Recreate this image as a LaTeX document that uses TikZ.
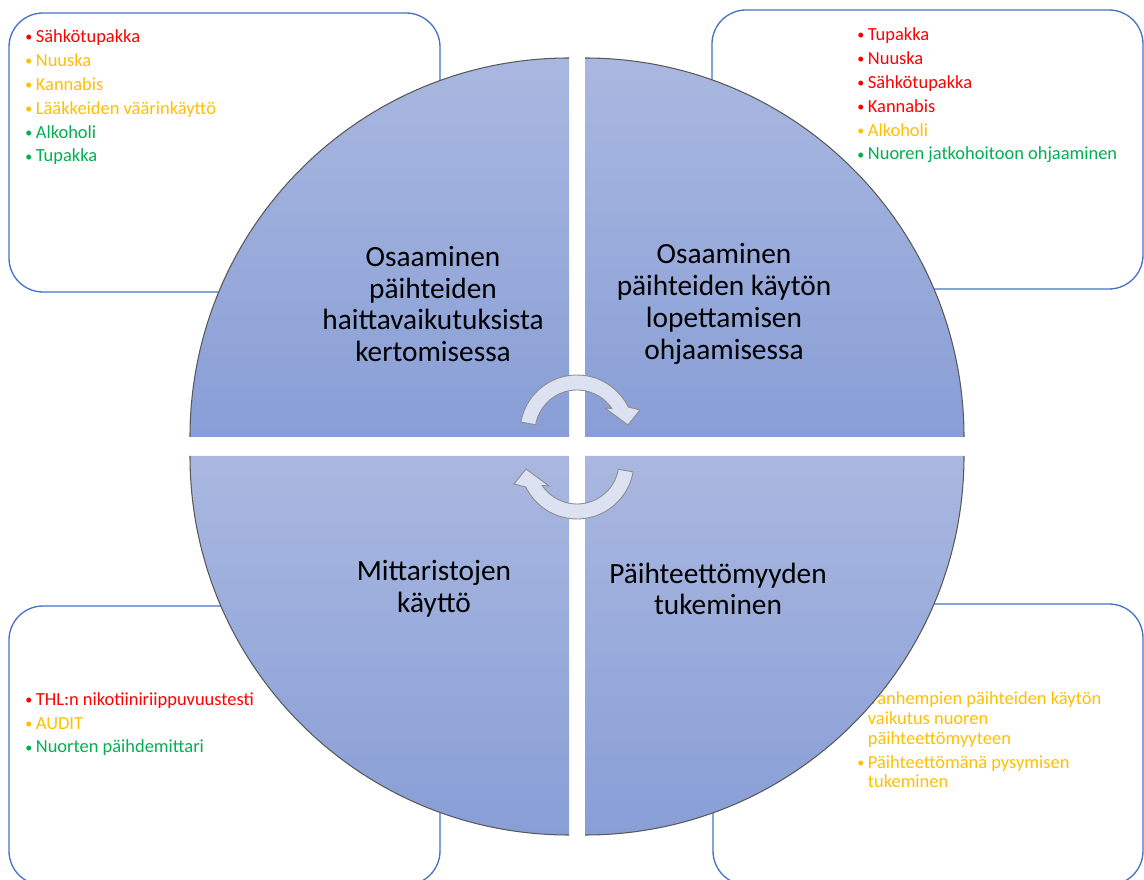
\documentclass[tikz,border=0pt]{standalone}
\usepackage{fontspec}
\setmainfont{Carlito}
\definecolor{boxblue}{HTML}{4472C4}
\definecolor{lred}{HTML}{FF0000}
\definecolor{lgold}{HTML}{FFC000}
\definecolor{lgreen}{HTML}{00B050}
\definecolor{qtop}{HTML}{AAB8E0}
\definecolor{qbot}{HTML}{889ED6}
\definecolor{arrfill}{HTML}{DCE2F2}
\newcommand{\bul}{\makebox[6pt][l]{\raisebox{0.4pt}{\fontsize{8}{8}\selectfont\textbullet}}}
\newcommand{\ind}{\hspace*{6pt}}

\begin{document}
\begin{tikzpicture}[x=0.02cm, y=0.02cm,
  listbox/.style={draw=boxblue, line width=0.75pt, rounded corners=0.68cm, fill=white},
  listtext/.style={anchor=base west, inner sep=0pt, align=left, font=\fontsize{10.5}{13.6}\selectfont},
  quarter/.style={top color=qtop, bottom color=qbot},
  rim/.style={draw=black!65, line width=0.6pt},
  qlabel/.style={align=center, font=\fontsize{16.7}{18.1}\selectfont},
  turn/.style={fill=arrfill, draw=black!45, line width=0.5pt}]
	\useasboundingbox (0,0) rectangle (1144,880);
	\clip (0,0) rectangle (1144,880);
	% corner boxes (the text nodes are anchored at their last baseline)
	\draw[listbox] (9,588) rectangle (440,867);
	\draw[listbox] (712,591) rectangle (1143,870);
	\draw[listbox] (9,-5) rectangle (440,274);
	\draw[listbox] (713,-5) rectangle (1143,276);
	\node[listtext] (harm) at (25,718) {{\color{lred}\bul Sähkötupakka}\\{\color{lgold}\bul Nuuska}\\{\color{lgold}\bul Kannabis}\\{\color{lgold}\bul Lääkkeiden väärinkäyttö}\\{\color{lgreen}\bul Alkoholi}\\{\color{lgreen}\bul Tupakka}};
	\node[listtext] (quitlist) at (857,720) {{\color{lred}\bul Tupakka}\\{\color{lred}\bul Nuuska}\\{\color{lred}\bul Sähkötupakka}\\{\color{lred}\bul Kannabis}\\{\color{lgold}\bul Alkoholi}\\{\color{lgreen}\bul Nuoren jatkohoitoon ohjaaminen}};
	\node[listtext] (meterlist) at (25,127) {{\color{lred}\bul THL:n nikotiiniriippuvuustesti}\\{\color{lgold}\bul AUDIT}\\{\color{lgreen}\bul Nuorten päihdemittari}};
	\node[listtext, font=\fontsize{10.5}{11.35}\selectfont, text=lgold] (supportlist) at (857,92) {\bul Vanhempien päihteiden käytön\\\ind vaikutus nuoren\\\ind päihteettömyyteen\\[2.3pt]\bul Päihteettömänä pysymisen\\\ind tukeminen};
	% quarters of the circle
	\path[quarter] (569,443) -- (190,443) arc[start angle=180, end angle=90, radius=379] -- cycle;
	\path[quarter] (585,443) -- (585,822) arc[start angle=90, end angle=0, radius=379] -- cycle;
	\path[quarter] (569,424) -- (569,45) arc[start angle=270, end angle=180, radius=379] -- cycle;
	\path[quarter] (585,424) -- (964,424) arc[start angle=0, end angle=-90, radius=379] -- cycle;
	\draw[rim] (190,443) arc[start angle=180, end angle=90, radius=379];
	\draw[rim] (585,822) arc[start angle=90, end angle=0, radius=379];
	\draw[rim] (569,45) arc[start angle=270, end angle=180, radius=379];
	\draw[rim] (964,424) arc[start angle=0, end angle=-90, radius=379];
	\node[qlabel] (know) at (433,576) {Osaaminen\\päihteiden\\haittavaikutuksista\\kertomisessa};
	\node[qlabel] (quit) at (724,576) {Osaaminen\\päihteiden käytön\\lopettamisen\\ohjaamisessa};
	\node[qlabel] (meter) at (434,291) {Mittaristojen\\käyttö};
	\node[qlabel] (support) at (718,291) {Päihteettömyyden\\tukeminen};
	% circular arrows
	\begin{scope}[shift={(577,448)}]
		\filldraw[turn] (170:57) arc[start angle=170, end angle=26, radius=57] -- (63,22) -- (51,7) -- (28,24) -- (34:42) arc[start angle=34, end angle=170, radius=42] -- cycle;
	\end{scope}
	\begin{scope}[shift={(577,418)}, rotate=180]
		\filldraw[turn] (170:57) arc[start angle=170, end angle=26, radius=57] -- (63,22) -- (51,7) -- (28,24) -- (34:42) arc[start angle=34, end angle=170, radius=42] -- cycle;
	\end{scope}
\end{tikzpicture}
\end{document}
